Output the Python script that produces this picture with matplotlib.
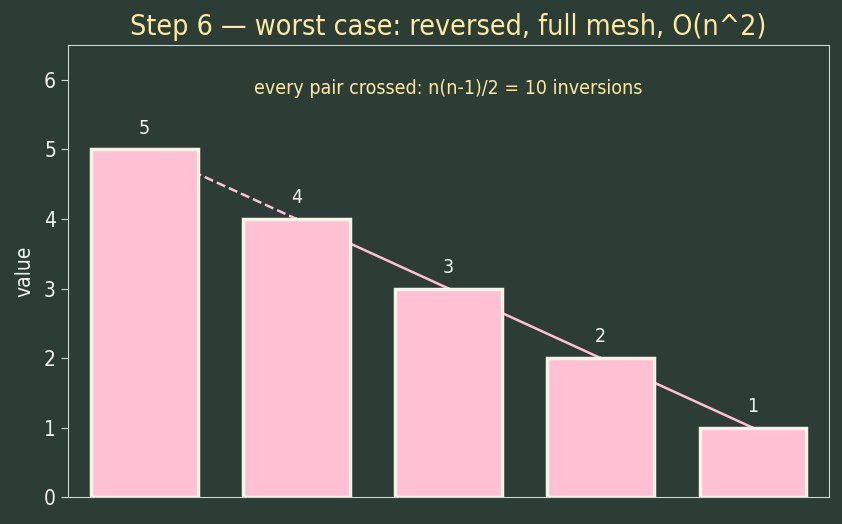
import matplotlib.pyplot as plt

# data
positions = [0, 1, 2, 3, 4]
values = [5, 4, 3, 2, 1]
title = "Step 6 \u2014 worst case: reversed, full mesh, O(n^2)"
note = "every pair crossed: n(n-1)/2 = 10 inversions"

plt.rcParams["font.stretch"] = "condensed"

bg = "#2b3d35"
pink = "#ffc0d3"
edge = "#f7f3ea"
spine = "#c9dccf"
gold = "#ffe9a0"
white = "#f2f2f2"

fig = plt.figure(figsize=(8.42, 5.24), dpi=100, facecolor=bg)
ax = fig.add_axes([0.0813, 0.051, 0.903, 0.863], facecolor=bg)

# links between neighbours, drawn behind the bars
for i in range(len(values) - 1):
    ls = "--" if i == 0 else "-"
    ax.plot([positions[i], positions[i + 1]], [values[i], values[i + 1]],
            color=pink, lw=1.8, ls=ls, zorder=1)

ax.bar(positions, values, width=0.7, color=pink, edgecolor=edge, linewidth=2.5, zorder=2)

for x, v in zip(positions, values):
    ax.text(x, v + 0.17, str(v), ha="center", va="bottom", color=white, fontsize=14)

ax.text(0.5, 0.905, note, transform=ax.transAxes, ha="center", va="center",
        color=gold, fontsize=14)

ax.set_xlim(-0.5, 4.5)
ax.set_ylim(0, 6.5)
ax.set_xticks([])
ax.set_yticks(range(0, 7))
ax.tick_params(axis="y", colors=spine, labelcolor=white, labelsize=15, length=5, pad=4)
ax.set_ylabel("value", color=white, fontsize=15, labelpad=7)
for s in ax.spines.values():
    s.set_color(spine)
ax.set_title(title, color=gold, fontsize=20.5, pad=7)

fig.savefig("out.png", dpi=100, facecolor=bg)
